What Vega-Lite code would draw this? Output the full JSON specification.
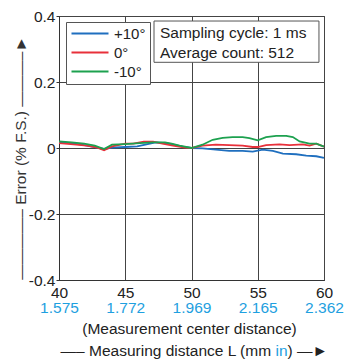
{
  "$schema": "https://vega.github.io/schema/vega-lite/v6.json",
  "width": 265,
  "height": 264,
  "autosize": {"type": "none"},
  "padding": {"left": 59, "top": 16, "right": 21, "bottom": 81},
  "background": "white",
  "config": {
    "font": "Liberation Sans",
    "view": {"stroke": "#333", "strokeWidth": 1},
    "axis": {
      "labelFont": "Liberation Sans", "titleFont": "Liberation Sans",
      "labelFontSize": 15.5, "titleFontSize": 15.5,
      "labelColor": "#222", "titleColor": "#222", "titleFontWeight": "normal",
      "gridColor": "#444", "gridOpacity": 1, "gridWidth": 1,
      "domainColor": "#333", "tickColor": "#333"
    }
  },
  "layer": [
    {
      "data": {"values": [
        {"x": 40, "y": 0.017, "s": "+10°"}, {"x": 40.96, "y": 0.015, "s": "+10°"}, {"x": 41.9, "y": 0.009, "s": "+10°"}, {"x": 42.7, "y": 0.003, "s": "+10°"}, {"x": 43.4, "y": -0.003, "s": "+10°"}, {"x": 44.0, "y": 0.001, "s": "+10°"}, {"x": 45, "y": 0.003, "s": "+10°"}, {"x": 45.9, "y": 0.005, "s": "+10°"}, {"x": 46.6, "y": 0.011, "s": "+10°"}, {"x": 47.3, "y": 0.017, "s": "+10°"}, {"x": 48.1, "y": 0.015, "s": "+10°"}, {"x": 48.8, "y": 0.009, "s": "+10°"}, {"x": 49.5, "y": 0.003, "s": "+10°"}, {"x": 50, "y": 0, "s": "+10°"}, {"x": 50.83, "y": -0.001, "s": "+10°"}, {"x": 51.84, "y": -0.005, "s": "+10°"}, {"x": 52.85, "y": -0.009, "s": "+10°"}, {"x": 53.86, "y": -0.009, "s": "+10°"}, {"x": 54.62, "y": -0.011, "s": "+10°"}, {"x": 55.38, "y": -0.005, "s": "+10°"}, {"x": 56.14, "y": -0.009, "s": "+10°"}, {"x": 56.9, "y": -0.017, "s": "+10°"}, {"x": 57.9, "y": -0.019, "s": "+10°"}, {"x": 58.66, "y": -0.023, "s": "+10°"}, {"x": 59.42, "y": -0.025, "s": "+10°"}, {"x": 60, "y": -0.03, "s": "+10°"},
        {"x": 40, "y": 0.015, "s": "0°"}, {"x": 41.1, "y": 0.011, "s": "0°"}, {"x": 42.1, "y": 0.007, "s": "0°"}, {"x": 42.9, "y": 0.001, "s": "0°"}, {"x": 43.4, "y": -0.007, "s": "0°"}, {"x": 44.0, "y": 0.005, "s": "0°"}, {"x": 45, "y": 0.013, "s": "0°"}, {"x": 45.6, "y": 0.013, "s": "0°"}, {"x": 46.4, "y": 0.019, "s": "0°"}, {"x": 47.1, "y": 0.019, "s": "0°"}, {"x": 47.8, "y": 0.013, "s": "0°"}, {"x": 48.6, "y": 0.007, "s": "0°"}, {"x": 49.5, "y": 0.001, "s": "0°"}, {"x": 50, "y": 0, "s": "0°"}, {"x": 50.83, "y": 0.007, "s": "0°"}, {"x": 51.84, "y": 0.010, "s": "0°"}, {"x": 52.85, "y": 0.009, "s": "0°"}, {"x": 53.86, "y": 0.007, "s": "0°"}, {"x": 54.62, "y": 0.003, "s": "0°"}, {"x": 55, "y": 0.003, "s": "0°"}, {"x": 55.63, "y": 0.009, "s": "0°"}, {"x": 56.64, "y": 0.011, "s": "0°"}, {"x": 57.4, "y": 0.009, "s": "0°"}, {"x": 58.4, "y": 0.011, "s": "0°"}, {"x": 58.91, "y": 0.007, "s": "0°"}, {"x": 59.42, "y": 0.013, "s": "0°"}, {"x": 60, "y": 0.004, "s": "0°"},
        {"x": 40, "y": 0.020, "s": "-10°"}, {"x": 40.96, "y": 0.017, "s": "-10°"}, {"x": 41.9, "y": 0.013, "s": "-10°"}, {"x": 42.7, "y": 0.007, "s": "-10°"}, {"x": 43.4, "y": -0.003, "s": "-10°"}, {"x": 44.0, "y": 0.010, "s": "-10°"}, {"x": 45, "y": 0.012, "s": "-10°"}, {"x": 46.1, "y": 0.015, "s": "-10°"}, {"x": 47.1, "y": 0.017, "s": "-10°"}, {"x": 48, "y": 0.017, "s": "-10°"}, {"x": 48.5, "y": 0.013, "s": "-10°"}, {"x": 49.1, "y": 0.007, "s": "-10°"}, {"x": 50, "y": 0, "s": "-10°"}, {"x": 50.83, "y": 0.010, "s": "-10°"}, {"x": 51.6, "y": 0.025, "s": "-10°"}, {"x": 52.35, "y": 0.031, "s": "-10°"}, {"x": 53.1, "y": 0.033, "s": "-10°"}, {"x": 53.86, "y": 0.033, "s": "-10°"}, {"x": 54.37, "y": 0.030, "s": "-10°"}, {"x": 55, "y": 0.023, "s": "-10°"}, {"x": 55.63, "y": 0.033, "s": "-10°"}, {"x": 56.39, "y": 0.037, "s": "-10°"}, {"x": 57.15, "y": 0.037, "s": "-10°"}, {"x": 57.65, "y": 0.033, "s": "-10°"}, {"x": 58.16, "y": 0.020, "s": "-10°"}, {"x": 58.91, "y": 0.013, "s": "-10°"}, {"x": 59.42, "y": 0.013, "s": "-10°"}, {"x": 60, "y": 0.004, "s": "-10°"}
      ]},
      "mark": {"type": "line", "strokeWidth": 1.8},
      "encoding": {
        "x": {
          "field": "x", "type": "quantitative",
          "scale": {"domain": [40, 60], "nice": false},
          "axis": {
            "orient": "bottom",
            "values": [40, 45, 50, 55, 60], "grid": true, "ticks": false, "tickSize": 0,
            "labelPadding": 5, "labelFlush": false, "domainColor": "#333",
            "title": "(Measurement center distance)",
            "titleBaseline": "alphabetic", "titleY": 53, "titleX": 130, "titleAlign": "center"
          }
        },
        "y": {
          "field": "y", "type": "quantitative",
          "scale": {"domain": [-0.4, 0.4], "nice": false, "zero": false},
          "axis": {
            "values": [-0.4, -0.2, 0, 0.2, 0.4], "grid": true, "tickSize": 3, "labelPadding": 1,
            "labelExpr": "datum.value == 0 ? '0' : (datum.value < 0 ? '-' : '') + format(abs(datum.value), '.1f')",
            "title": "————– Error (% F.S.) ———–►",
            "titleAngle": -90, "titleX": -39, "titleY": 141.5,
            "titleAlign": "center", "titleBaseline": "middle", "titleColor": "#333"
          }
        },
        "color": {
          "field": "s", "type": "nominal",
          "scale": {"domain": ["+10°", "0°", "-10°"], "range": ["#1f6fbf", "#e8303a", "#1da14f"]},
          "legend": {
            "title": null, "orient": "none", "legendX": 7, "legendY": 6, "direction": "vertical",
            "padding": 4.5, "strokeColor": "#555", "fillColor": "white",
            "symbolType": "stroke", "symbolSize": 1369, "symbolStrokeWidth": 2,
            "labelFont": "Liberation Sans", "labelFontSize": 15, "labelColor": "#222",
            "labelOffset": 4.5, "rowPadding": 4, "clipHeight": 14
          }
        }
      }
    },
    {
      "data": {"values": [{}]},
      "mark": {"type": "rect", "fill": "white", "stroke": "#555", "strokeWidth": 1},
      "encoding": {
        "x": {
          "datum": 47.17, "type": "quantitative",
          "axis": {
            "orient": "bottom",
            "values": [40, 45, 50, 55, 60], "grid": false, "ticks": false, "tickSize": 0, "domain": false,
            "labelPadding": 20, "labelFlush": false, "labelOverlap": false, "labelColor": "#1ea0e0",
            "labelExpr": "datum.value == 40 ? '1.575' : datum.value == 45 ? '1.772' : datum.value == 50 ? '1.969' : datum.value == 55 ? '2.165' : '2.362'",
            "title": "—– Measuring distance L (mm",
            "titleBaseline": "alphabetic", "titleY": 75, "titleX": 211.6, "titleAlign": "right", "titleColor": "#222"
          }
        },
        "x2": {"datum": 59.62},
        "y": {"datum": 0.3848, "type": "quantitative"},
        "y2": {"datum": 0.2597}
      }
    },
    {
      "data": {"values": [{}]},
      "mark": {"type": "text", "align": "left", "baseline": "alphabetic", "fontSize": 15.5, "font": "Liberation Sans", "color": "#222", "text": "Sampling cycle: 1 ms"},
      "encoding": {
        "x": {
          "datum": 47.62, "type": "quantitative",
          "axis": {
            "orient": "bottom",
            "grid": false, "ticks": false, "domain": false, "labels": false,
            "title": "in", "titleColor": "#1ea0e0",
            "titleBaseline": "alphabetic", "titleY": 75, "titleX": 216, "titleAlign": "left"
          }
        },
        "y": {"datum": 0.3324, "type": "quantitative"}
      }
    },
    {
      "data": {"values": [{}]},
      "mark": {"type": "text", "align": "left", "baseline": "alphabetic", "fontSize": 15.5, "font": "Liberation Sans", "color": "#222", "text": "Average count: 512"},
      "encoding": {
        "x": {
          "datum": 47.62, "type": "quantitative",
          "axis": {
            "orient": "bottom",
            "grid": false, "ticks": false, "domain": false, "labels": false,
            "title": ") —►", "titleColor": "#222",
            "titleBaseline": "alphabetic", "titleY": 75, "titleX": 228.1, "titleAlign": "left"
          }
        },
        "y": {"datum": 0.2718, "type": "quantitative"}
      }
    }
  ],
  "resolve": {"axis": {"x": "independent"}}
}
